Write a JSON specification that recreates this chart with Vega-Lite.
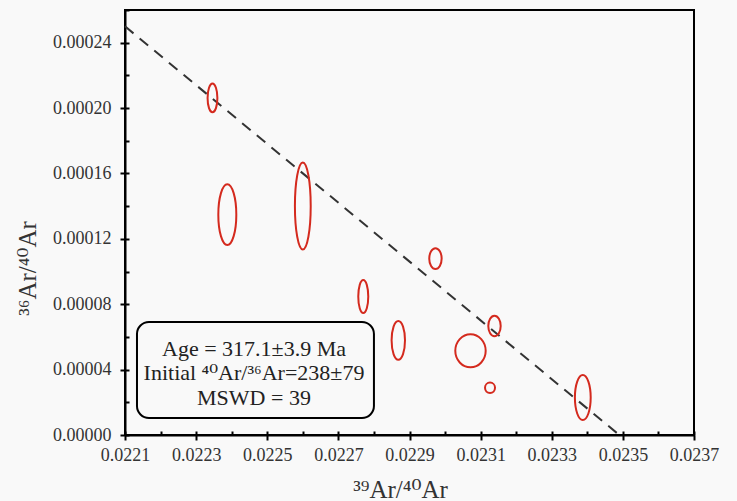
{
  "$schema": "https://vega.github.io/schema/vega-lite/v6.json",
  "width": 569,
  "height": 425,
  "autosize": "none",
  "padding": {"left": 125, "top": 10, "right": 43, "bottom": 66},
  "background": "#f9f9f9",
  "config": {
    "view": {"stroke": "black", "strokeWidth": 2},
    "axis": {
      "domainColor": "black",
      "domainWidth": 2,
      "tickColor": "black",
      "tickWidth": 2,
      "grid": false,
      "labelFlush": false,
      "labelOverlap": false
    }
  },
  "resolve": {"axis": {"x": "independent", "y": "independent"}},
  "layer": [
    {
      "data": {"values": [
        {"x": 0.0221, "y": 0.00025},
        {"x": 0.02349, "y": 0.0}
      ]},
      "mark": {"type": "line", "color": "#333", "strokeWidth": 2, "strokeDash": [11, 8]},
      "encoding": {
        "x": {"field": "x", "type": "quantitative",
          "scale": {"domain": [0.0221, 0.0237], "nice": false, "zero": false},
          "axis": {"orient": "bottom", "values": [0.0221, 0.0223, 0.0225, 0.0227, 0.0229, 0.0231, 0.0233, 0.0235, 0.0237],
            "format": ".4f", "tickSize": 5, "labelPadding": 6,
            "labelFont": "Liberation Serif", "labelFontSize": 18, "labelColor": "#333",
            "titleFont": "Liberation Serif, DejaVu Serif", "titleFontSize": 25, "titleFontWeight": "normal", "titleColor": "#333",
            "title": "³⁹Ar/⁴⁰Ar", "titleX": 275, "titleY": 62, "titleBaseline": "alphabetic", "titleAlign": "center"}},
        "y": {"field": "y", "type": "quantitative",
          "scale": {"domain": [0, 0.00026], "nice": false},
          "axis": {"orient": "left", "values": [0, 0.00004, 0.00008, 0.00012, 0.00016, 0.0002, 0.00024],
            "format": ".5f", "tickSize": 5, "labelPadding": 9,
            "labelFont": "Liberation Serif", "labelFontSize": 18, "labelColor": "#333",
            "titleFont": "Liberation Serif, DejaVu Serif", "titleFontSize": 25, "titleFontWeight": "normal", "titleColor": "#333",
            "title": "³⁶Ar/⁴⁰Ar", "titleX": -98, "titleY": 258, "titleAngle": -90, "titleAlign": "center", "titleBaseline": "middle"}}
      }
    },
    {
      "data": {"values": [
        {"id": "e1", "x": 0.022346, "y": 0.0002062},
        {"id": "e2", "x": 0.0223877, "y": 0.0001348},
        {"id": "e3", "x": 0.0226, "y": 0.0001401},
        {"id": "e4", "x": 0.02277, "y": 0.0000847},
        {"id": "e5", "x": 0.0228685, "y": 0.0000579},
        {"id": "e6", "x": 0.022973, "y": 0.0001079},
        {"id": "e7", "x": 0.0230715, "y": 0.0000515},
        {"id": "e8", "x": 0.0231264, "y": 0.0000289},
        {"id": "e9", "x": 0.023139, "y": 0.0000667},
        {"id": "e10", "x": 0.0233873, "y": 0.0000229}
      ]},
      "mark": {"type": "point", "filled": false, "stroke": "#d42a1e", "strokeWidth": 2, "size": 4, "opacity": 1},
      "encoding": {
        "x": {"field": "x", "type": "quantitative",
          "axis": {"orient": "bottom", "values": [0.0221, 0.0222, 0.0223, 0.0224, 0.0225, 0.0226, 0.0227, 0.0228, 0.0229, 0.023, 0.0231, 0.0232, 0.0233, 0.0234, 0.0235, 0.0236, 0.0237],
            "tickSize": -4, "labels": false, "domain": false, "title": null}},
        "y": {"field": "y", "type": "quantitative",
          "axis": {"orient": "left", "values": [0, 0.00002, 0.00004, 0.00006, 0.00008, 0.0001, 0.00012, 0.00014, 0.00016, 0.00018, 0.0002, 0.00022, 0.00024, 0.00026],
            "tickSize": -4, "labels": false, "domain": false, "title": null}},
        "shape": {"field": "id", "type": "nominal", "legend": null,
          "scale": {
            "domain": ["e1", "e2", "e3", "e4", "e5", "e6", "e7", "e8", "e9", "e10"],
            "range": [
              "M -4.9 0 A 4.9 14.4 0 1 0 4.9 0 A 4.9 14.4 0 1 0 -4.9 0 Z",
              "M -9 0 A 9 30.4 0 1 0 9 0 A 9 30.4 0 1 0 -9 0 Z",
              "M -7.9 0 A 7.9 43.5 0 1 0 7.9 0 A 7.9 43.5 0 1 0 -7.9 0 Z",
              "M -5 0 A 5 16.5 0 1 0 5 0 A 5 16.5 0 1 0 -5 0 Z",
              "M -6.7 0 A 6.7 19.4 0 1 0 6.7 0 A 6.7 19.4 0 1 0 -6.7 0 Z",
              "M -6.2 0 A 6.2 10.4 0 1 0 6.2 0 A 6.2 10.4 0 1 0 -6.2 0 Z",
              "M -15.2 0 A 15.2 16.5 0 1 0 15.2 0 A 15.2 16.5 0 1 0 -15.2 0 Z",
              "M -5 0 A 5 5.2 0 1 0 5 0 A 5 5.2 0 1 0 -5 0 Z",
              "M -6.2 0 A 6.2 10.2 0 1 0 6.2 0 A 6.2 10.2 0 1 0 -6.2 0 Z",
              "M -7.9 0 A 7.9 22.5 0 1 0 7.9 0 A 7.9 22.5 0 1 0 -7.9 0 Z"
            ]
          }}
      }
    },
    {
      "data": {"values": [{"x": 0.0221337, "x2": 0.0228, "y": 0.0000691, "y2": 0.0000104}]},
      "mark": {"type": "rect", "cornerRadius": 12, "fill": "#f9f9f9", "stroke": "black", "strokeWidth": 2},
      "encoding": {
        "x": {"field": "x", "type": "quantitative", "axis": null},
        "x2": {"field": "x2"},
        "y": {"field": "y", "type": "quantitative", "axis": null},
        "y2": {"field": "y2"}
      }
    },
    {
      "data": {"values": [
        {"x": 0.0224627, "y": 0.0000526, "label": "Age = 317.1±3.9 Ma"},
        {"x": 0.0224627, "y": 0.0000379, "label": "Initial ⁴⁰Ar/³⁶Ar=238±79"},
        {"x": 0.0224627, "y": 0.0000226, "label": "MSWD = 39"}
      ]},
      "mark": {"type": "text", "font": "Liberation Serif, DejaVu Serif", "fontSize": 22, "color": "#222", "align": "center", "baseline": "middle"},
      "encoding": {
        "x": {"field": "x", "type": "quantitative", "axis": null},
        "y": {"field": "y", "type": "quantitative", "axis": null},
        "text": {"field": "label"}
      }
    }
  ]
}
